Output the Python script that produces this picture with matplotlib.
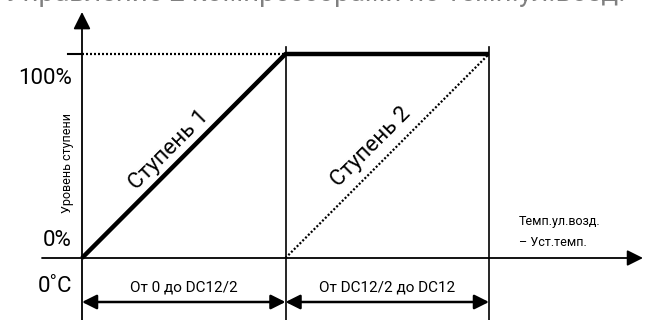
import matplotlib
matplotlib.use("Agg")
import matplotlib.pyplot as plt

plt.rcParams['font.family'] = ['Roboto', 'DejaVu Sans']

# x in units of DC12/2, y in % of stage level
stage1_x = [0, 1, 2]
stage1_y = [0, 100, 100]
stage2_x = [1, 2]
stage2_y = [0, 100]
guide_x = [0, 1]
guide_y = [100, 100]
bound_x = [1, 2]
range_labels = ["От 0 до DC12/2", "От DC12/2 до DC12"]
stage_labels = ["Ступень 1", "Ступень 2"]
title = "Управление 2 компрессорами по темп.ул.возд."

# pixel scale of the picture: origin at (82, 258), 1 unit = 203.5 px, 100% = 204 px
px_x = 203.5
px_y = 2.04
x0, y0 = 82, 258
W, H = 645, 320

fig = plt.figure(figsize=(W / 100, H / 100), dpi=100)
ax = fig.add_axes([0, 0, 1, 1])
ax.set_xlim(-x0 / px_x, (W - x0) / px_x)
ax.set_ylim(-(H - y0) / px_y, y0 / px_y)
ax.axis('off')

ylo = -(H - y0) / px_y

# axes with arrows
ax.annotate('', xy=(0, (y0 - 12) / px_y), xytext=(0, ylo),
            arrowprops=dict(arrowstyle='-|>', color='black', lw=1.3,
                            mutation_scale=26, shrinkA=0, shrinkB=0))
ax.annotate('', xy=((643 - x0) / px_x, 0), xytext=((42 - x0) / px_x, 0),
            arrowprops=dict(arrowstyle='-|>', color='black', lw=1.3,
                            mutation_scale=24, shrinkA=0, shrinkB=0))

# vertical boundaries
for bx in bound_x:
    ax.plot([bx, bx], [ylo, (y0 - 47) / px_y], color='black', lw=1.2)

# 100% tick and dotted guide
ax.plot([(68 - x0) / px_x, 0], [100, 100], color='black', lw=1.5)
ax.plot(guide_x, guide_y, color='black', lw=1.6, ls=(0, (0.9, 0.9)))

# stages
ax.plot(stage1_x, stage1_y, color='black', lw=3.2, solid_capstyle='butt')
ax.plot(stage2_x, stage2_y, color='black', lw=1.6, ls=(0, (0.9, 0.9)))

# range dimension arrows
ya = -(302 - y0) / px_y
edges = [0] + bound_x
for i, lab in enumerate(range_labels):
    a, b = edges[i], edges[i + 1]
    ax.annotate('', xy=(a, ya), xytext=(b, ya),
                arrowprops=dict(arrowstyle='<|-|>', color='black', lw=1.8,
                                mutation_scale=22, shrinkA=0, shrinkB=0))
    ax.text((a + b) / 2, -(287 - y0) / px_y, lab, ha='center', va='center', fontsize=11)

# stage labels
ax.text(0.43, (y0 - 150) / px_y, stage_labels[0], rotation=45, ha='center', va='center',
        fontsize=16, rotation_mode='anchor')
ax.text(1.42, (y0 - 147) / px_y, stage_labels[1], rotation=45, ha='center', va='center',
        fontsize=16, rotation_mode='anchor')

# axis annotations
ax.text((72 - x0) / px_x, (y0 - 79) / px_y, "100%", ha='right', va='center', fontsize=16)
ax.text((72 - x0) / px_x, (y0 - 240) / px_y, "0%", ha='right', va='center', fontsize=16)
ax.text((68 - x0) / px_x, (y0 - 163) / px_y, "Уровень ступени", rotation=90,
        ha='center', va='center', fontsize=9)
ax.text((72 - x0) / px_x, -(287 - y0) / px_y, "0˚C", ha='right', va='center', fontsize=16)
ax.text((519 - x0) / px_x, (y0 - 222) / px_y, "Темп.ул.возд.", ha='left', va='center', fontsize=9)
ax.text((519 - x0) / px_x, (y0 - 243) / px_y, "– Уст.темп.", ha='left', va='center', fontsize=9)

# title clipped at the top edge, as in the source image
ax.text((315 - x0) / px_x, (y0 - 1) / px_y, title, ha='center', va='baseline',
        fontsize=20, color='#808080')

fig.savefig('out.png', dpi=100)
